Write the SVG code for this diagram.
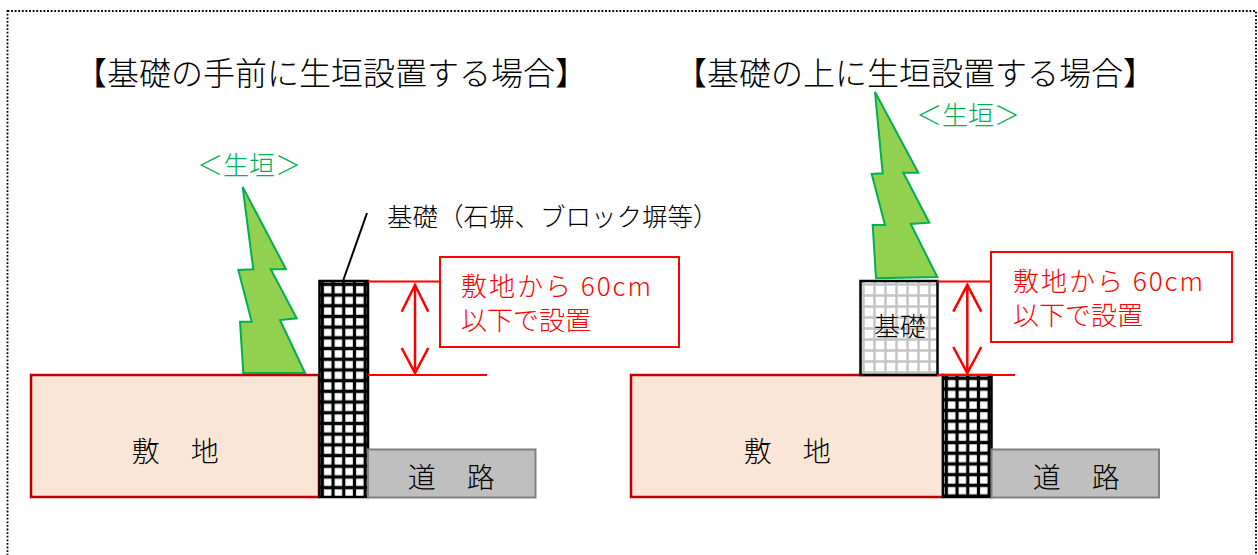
<svg xmlns="http://www.w3.org/2000/svg" width="1258" height="555" viewBox="0 0 1258 555">
<style>
text{font-family:"Noto Sans CJK JP","Noto Sans",sans-serif;font-weight:300;}
.title{font-size:32px;fill:#000;text-anchor:middle;}
.green{font-size:26px;fill:#00B050;text-anchor:middle;}
.lbl{font-size:28px;fill:#000;text-anchor:middle;letter-spacing:1.5px;}
.red{font-size:26px;fill:#FF0000;}
.land{fill:#FBE5D6;stroke:#C00000;stroke-width:2.5;}
.road{fill:#BFBFBF;stroke:#808080;stroke-width:2;}
.tree{fill:#92D050;stroke:#00B050;stroke-width:2;stroke-linejoin:miter;}
.note{fill:#fff;stroke:#FF0000;stroke-width:2;}
.rl{stroke:#FF0000;stroke-width:2;fill:none;}
.arr{stroke:#FF0000;stroke-width:2.5;fill:none;}
</style>
<defs>
<pattern id="gridL" patternUnits="userSpaceOnUse" x="317" y="279" width="10.7" height="10.7">
<rect width="10.7" height="10.7" fill="#fff"/>
<path d="M0 5.35H10.7M5.35 0V10.7" stroke="#000" stroke-width="3.2"/>
</pattern>
<pattern id="gridR" patternUnits="userSpaceOnUse" x="941" y="373" width="10.7" height="10.7">
<rect width="10.7" height="10.7" fill="#fff"/>
<path d="M0 5.35H10.7M5.35 0V10.7" stroke="#000" stroke-width="3.2"/>
</pattern>
<pattern id="gridG" patternUnits="userSpaceOnUse" x="858" y="279" width="11" height="11">
<rect width="11" height="11" fill="#fff"/>
<path d="M0 5.5H11M5.5 0V11" stroke="#C4C4C4" stroke-width="2.5"/>
</pattern>
</defs>
<rect x="7.5" y="11" width="1248.5" height="570" fill="none" stroke="#000" stroke-width="1.8" stroke-dasharray="1.8 1.8"/>

<text class="title" x="331" y="85">【基礎の手前に生垣設置する場合】</text>
<text class="title" x="915" y="85">【基礎の上に生垣設置する場合】</text>

<!-- Left panel -->
<g id="land-left">
<rect class="land" x="31" y="375" width="288" height="122"/>
<text class="lbl" x="176" y="462">敷　地</text>
</g>
<g id="tree-left">
<polygon class="tree" points="242.7,187 286,269.3 270.7,269.3 296.7,318.3 280,320 305,373 243.3,373 240,321.7 251.7,321.7 238.3,270 253.3,269.3"/>
<text class="green" x="249" y="175">＜生垣＞</text>
</g>
<g id="wall-left">
<rect x="319.5" y="281" width="48.5" height="216" fill="url(#gridL)" stroke="#000" stroke-width="2.5"/>
</g>
<g id="wall-label">
<text x="387" y="226" style="font-size:25.5px;fill:#000;">基礎（石塀、ブロック塀等）</text>
</g>
<g id="road-left">
<rect class="road" x="368" y="449.5" width="167.5" height="48"/>
<text class="lbl" x="452" y="488">道　路</text>
</g>
<g id="note-left">
<rect class="note" x="440" y="257" width="239" height="90"/>
<text class="red" x="461" y="296" style="letter-spacing:2px">敷地から 60cm</text>
<text class="red" x="461" y="330">以下で設置</text>
</g>

<!-- Right panel -->
<g id="land-right">
<rect class="land" x="631" y="375" width="312" height="122"/>
<text class="lbl" x="788" y="462">敷　地</text>
</g>
<g id="wall-right">
<rect x="943" y="375" width="48.5" height="122" fill="url(#gridR)" stroke="#000" stroke-width="2.5"/>
</g>
<g id="base-right">
<rect x="860.5" y="281" width="77" height="94" fill="url(#gridG)" stroke="#000" stroke-width="2.5"/>
<text x="900" y="336" style="font-size:26px;fill:#000;text-anchor:middle;">基礎</text>
</g>
<g id="tree-right">
<polygon class="tree" points="875,92 918.3,172.7 903.3,172.7 929.3,222.7 910.7,224 937.3,277 876,278.3 872.7,225 885,225 871.7,174 882.7,173.3"/>
<text class="green" x="968" y="125">＜生垣＞</text>
</g>
<g id="road-right">
<rect class="road" x="991.5" y="449.5" width="167.5" height="48"/>
<text class="lbl" x="1077" y="488">道　路</text>
</g>
<g id="note-right">
<rect class="note" x="991" y="252" width="241" height="90"/>
<text class="red" x="1013" y="291" style="letter-spacing:2px">敷地から 60cm</text>
<text class="red" x="1013" y="325">以下で設置</text>
</g>

<g id="connectors">
<line x1="343" y1="281" x2="367" y2="213" stroke="#000" stroke-width="2"/>
<line class="rl" x1="368" y1="281.5" x2="440" y2="281.5"/>
<line class="rl" x1="368" y1="375" x2="487" y2="375"/>
<path class="arr" d="M415 284V373M401.7 311.7L415 285L428.3 311.7M401.7 348L415 373L428.3 348"/>
<line class="rl" x1="937" y1="281.5" x2="991" y2="281.5"/>
<line class="rl" x1="937" y1="375" x2="1015" y2="375"/>
<path class="arr" d="M967.3 284V373M953.3 311.7L967.3 285L981.3 311.7M953.3 347L967.3 373L981.3 347"/>
</g>
</svg>
